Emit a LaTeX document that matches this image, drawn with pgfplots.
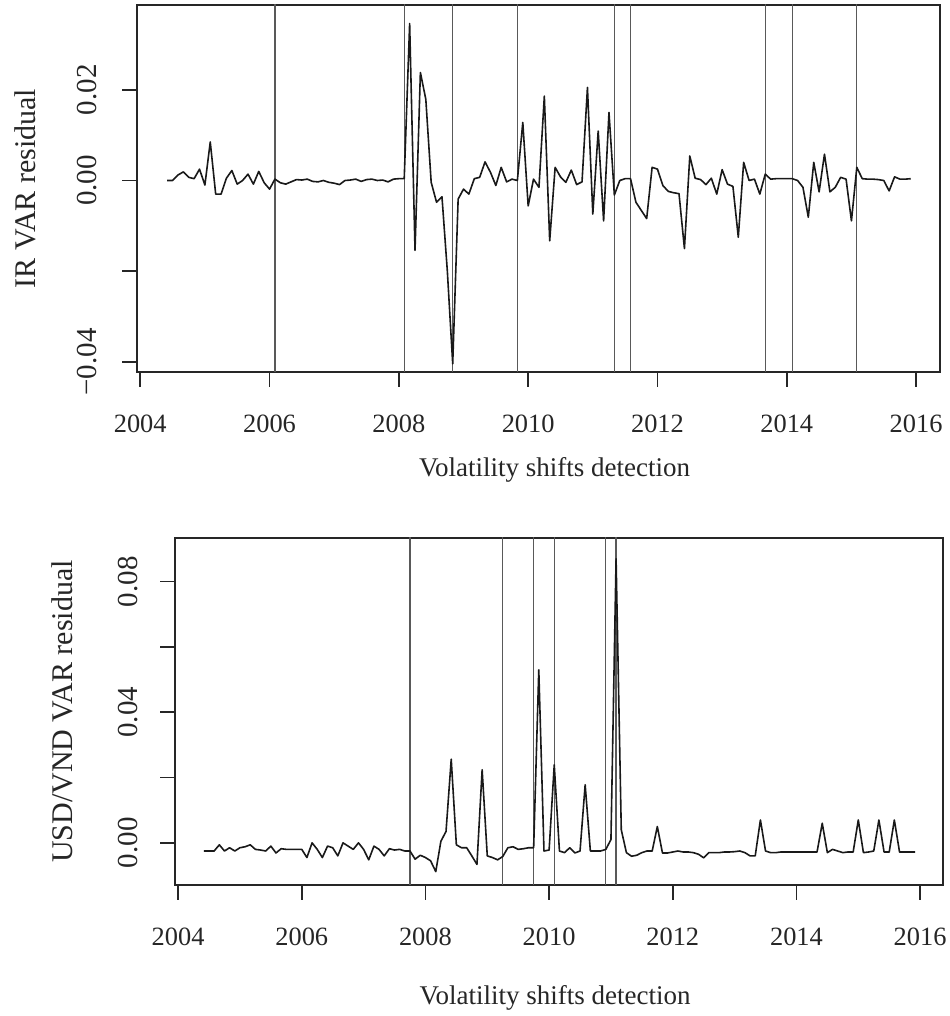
\documentclass[border=0pt]{standalone}
\usepackage{fontspec}
\setmainfont{Liberation Serif}
\usepackage{pgfplots}
\usepackage{pgfplotstable}
\pgfplotsset{compat=1.18}

% monthly VAR residuals
\pgfplotstableread{
t res
2004.417 0.0000
2004.500 0.0000
2004.583 0.0012
2004.667 0.0019
2004.750 0.0007
2004.833 0.0004
2004.917 0.0025
2005.000 -0.0010
2005.083 0.0085
2005.167 -0.0030
2005.250 -0.0030
2005.333 0.0005
2005.417 0.0022
2005.500 -0.0008
2005.583 0.0000
2005.667 0.0014
2005.750 -0.0008
2005.833 0.0020
2005.917 -0.0005
2006.000 -0.0019
2006.083 0.0003
2006.167 -0.0005
2006.250 -0.0008
2006.333 -0.0003
2006.417 0.0002
2006.500 0.0001
2006.583 0.0003
2006.667 -0.0002
2006.750 -0.0003
2006.833 0.0000
2006.917 -0.0004
2007.000 -0.0006
2007.083 -0.0009
2007.167 0.0000
2007.250 0.0001
2007.333 0.0003
2007.417 -0.0002
2007.500 0.0002
2007.583 0.0003
2007.667 0.0000
2007.750 0.0001
2007.833 -0.0003
2007.917 0.0003
2008.000 0.0004
2008.083 0.0004
2008.167 0.0346
2008.250 -0.0154
2008.333 0.0238
2008.417 0.0179
2008.500 -0.0004
2008.583 -0.0048
2008.667 -0.0036
2008.750 -0.0200
2008.833 -0.0404
2008.917 -0.0041
2009.000 -0.0019
2009.083 -0.0030
2009.167 0.0004
2009.250 0.0007
2009.333 0.0041
2009.417 0.0018
2009.500 -0.0011
2009.583 0.0029
2009.667 -0.0003
2009.750 0.0003
2009.833 0.0000
2009.917 0.0128
2010.000 -0.0056
2010.083 0.0003
2010.167 -0.0015
2010.250 0.0186
2010.333 -0.0133
2010.417 0.0029
2010.500 0.0008
2010.583 -0.0004
2010.667 0.0023
2010.750 -0.0009
2010.833 -0.0003
2010.917 0.0205
2011.000 -0.0074
2011.083 0.0109
2011.167 -0.0089
2011.250 0.0150
2011.333 -0.0032
2011.417 0.0000
2011.500 0.0004
2011.583 0.0004
2011.667 -0.0048
2011.750 -0.0066
2011.833 -0.0084
2011.917 0.0029
2012.000 0.0025
2012.083 -0.0011
2012.167 -0.0024
2012.250 -0.0027
2012.333 -0.0029
2012.417 -0.0150
2012.500 0.0054
2012.583 0.0005
2012.667 0.0002
2012.750 -0.0009
2012.833 0.0005
2012.917 -0.0030
2013.000 0.0024
2013.083 -0.0008
2013.167 -0.0013
2013.250 -0.0125
2013.333 0.0040
2013.417 0.0000
2013.500 0.0003
2013.583 -0.0030
2013.667 0.0014
2013.750 0.0003
2013.833 0.0004
2013.917 0.0004
2014.000 0.0004
2014.083 0.0004
2014.167 0.0000
2014.250 -0.0015
2014.333 -0.0081
2014.417 0.0040
2014.500 -0.0025
2014.583 0.0058
2014.667 -0.0025
2014.750 -0.0015
2014.833 0.0007
2014.917 0.0003
2015.000 -0.0089
2015.083 0.0029
2015.167 0.0004
2015.250 0.0003
2015.333 0.0003
2015.417 0.0002
2015.500 0.0000
2015.583 -0.0023
2015.667 0.0008
2015.750 0.0003
2015.833 0.0003
2015.917 0.0004
}\irres

\pgfplotstableread{
t res
2004.417 -0.0025
2004.500 -0.0025
2004.583 -0.0025
2004.667 -0.0006
2004.750 -0.0025
2004.833 -0.0015
2004.917 -0.0025
2005.000 -0.0015
2005.083 -0.0012
2005.167 -0.0006
2005.250 -0.0020
2005.333 -0.0022
2005.417 -0.0025
2005.500 -0.0010
2005.583 -0.0031
2005.667 -0.0018
2005.750 -0.0020
2005.833 -0.0020
2005.917 -0.0020
2006.000 -0.0020
2006.083 -0.0045
2006.167 0.0000
2006.250 -0.0020
2006.333 -0.0045
2006.417 -0.0010
2006.500 -0.0015
2006.583 -0.0040
2006.667 0.0000
2006.750 -0.0010
2006.833 -0.0020
2006.917 0.0000
2007.000 -0.0020
2007.083 -0.0052
2007.167 -0.0010
2007.250 -0.0020
2007.333 -0.0040
2007.417 -0.0018
2007.500 -0.0022
2007.583 -0.0020
2007.667 -0.0025
2007.750 -0.0025
2007.833 -0.0050
2007.917 -0.0038
2008.000 -0.0045
2008.083 -0.0055
2008.167 -0.0088
2008.250 0.0005
2008.333 0.0035
2008.417 0.0256
2008.500 -0.0006
2008.583 -0.0015
2008.667 -0.0015
2008.750 -0.0040
2008.833 -0.0066
2008.917 0.0224
2009.000 -0.0040
2009.083 -0.0045
2009.167 -0.0052
2009.250 -0.0042
2009.333 -0.0015
2009.417 -0.0012
2009.500 -0.0020
2009.583 -0.0018
2009.667 -0.0015
2009.750 -0.0015
2009.833 0.0530
2009.917 -0.0025
2010.000 -0.0022
2010.083 0.0239
2010.167 -0.0025
2010.250 -0.0030
2010.333 -0.0015
2010.417 -0.0031
2010.500 -0.0025
2010.583 0.0178
2010.667 -0.0025
2010.750 -0.0025
2010.833 -0.0025
2010.917 -0.0020
2011.000 0.0010
2011.083 0.0870
2011.167 0.0040
2011.250 -0.0030
2011.333 -0.0041
2011.417 -0.0038
2011.500 -0.0030
2011.583 -0.0025
2011.667 -0.0025
2011.750 0.0050
2011.833 -0.0031
2011.917 -0.0031
2012.000 -0.0028
2012.083 -0.0025
2012.167 -0.0028
2012.250 -0.0028
2012.333 -0.0030
2012.417 -0.0035
2012.500 -0.0046
2012.583 -0.0030
2012.667 -0.0030
2012.750 -0.0030
2012.833 -0.0028
2012.917 -0.0028
2013.000 -0.0027
2013.083 -0.0025
2013.167 -0.0030
2013.250 -0.0040
2013.333 -0.0040
2013.417 0.0070
2013.500 -0.0025
2013.583 -0.0030
2013.667 -0.0030
2013.750 -0.0028
2013.833 -0.0028
2013.917 -0.0028
2014.000 -0.0028
2014.083 -0.0028
2014.167 -0.0028
2014.250 -0.0028
2014.333 -0.0028
2014.417 0.0060
2014.500 -0.0030
2014.583 -0.0020
2014.667 -0.0025
2014.750 -0.0030
2014.833 -0.0028
2014.917 -0.0028
2015.000 0.0070
2015.083 -0.0030
2015.167 -0.0028
2015.250 -0.0025
2015.333 0.0070
2015.417 -0.0028
2015.500 -0.0028
2015.583 0.0070
2015.667 -0.0028
2015.750 -0.0028
2015.833 -0.0028
2015.917 -0.0028
}\fxres

\pgfplotsset{
  rbox/.style={
    scale only axis,
    anchor=south west,
    xmin=2003.95, xmax=2016.37,
    scaled y ticks=false,
    axis line style={black!85, line width=0.9pt},
    tick style={black!85, line width=0.8pt},
    tick align=outside,
    major tick length=7.5pt,
    xtick pos=bottom, ytick pos=left,
    xtick={2004,2006,2008,2010,2012,2014,2016},
    xticklabels={2004,2006,2008,2010,2012,2014,2016},
    xticklabel style={anchor=north, inner sep=0pt, yshift=-14pt},
    yticklabel style={rotate=90, anchor=south, inner sep=0pt,
      font=\fontsize{14.5}{17}\selectfont},
    ylabel style={anchor=base, inner sep=0pt, font=\fontsize{15}{18}\selectfont},
    xlabel style={anchor=base, inner sep=0pt, font=\fontsize{13.5}{16}\selectfont},
    every tick label/.append style={text=black!85},
    label style={text=black!85},
  },
  shift/.style={black!65, line width=0.6pt, ycomb, mark=none},
  resid/.style={black!90, line width=0.8pt, mark=none, line join=round},
}

\begin{document}
\fontsize{13.2}{15.8}\selectfont
\begin{tikzpicture}
\useasboundingbox (0,0) rectangle (474.5pt,508pt);

\begin{axis}[rbox,
  at={(68.5pt,322pt)}, width=401.5pt, height=183.5pt,
  ymin=-0.0422, ymax=0.0387,
  ytick={-0.04,-0.02,0,0.02},
  yticklabels={−0.04,,0.00,0.02},
  yticklabel shift=12.5pt,
  ylabel={IR VAR residual},
  ylabel style={at={(axis description cs:-0.127,0.5)}},
  xlabel={Volatility shifts detection},
  xlabel style={at={(axis description cs:0.52,0)}, yshift=-52.5pt},
]
\addplot[shift] coordinates {(2006.083,1) (2008.083,1) (2008.833,1) (2009.833,1) (2011.333,1) (2011.583,1) (2013.667,1) (2014.083,1) (2015.083,1)};
\addplot[shift] coordinates {(2006.083,-1) (2008.083,-1) (2008.833,-1) (2009.833,-1) (2011.333,-1) (2011.583,-1) (2013.667,-1) (2014.083,-1) (2015.083,-1)};
\addplot[resid] table[x=t, y=res] {\irres};
\end{axis}

\begin{axis}[rbox,
  at={(87.5pt,65.5pt)}, width=384pt, height=173.5pt,
  ymin=-0.0129, ymax=0.0934,
  ytick={0,0.02,0.04,0.06,0.08},
  yticklabels={0.00,,0.04,,0.08},
  yticklabel shift=11pt,
  ylabel={USD/VND VAR residual},
  ylabel style={at={(axis description cs:-0.1341,0.5)}},
  xlabel={Volatility shifts detection},
  xlabel style={at={(axis description cs:0.495,0)}, yshift=-60pt},
]
\addplot[shift] coordinates {(2007.75,1) (2009.25,1) (2009.75,1) (2010.083,1) (2010.917,1) (2011.083,1)};
\addplot[shift] coordinates {(2007.75,-1) (2009.25,-1) (2009.75,-1) (2010.083,-1) (2010.917,-1) (2011.083,-1)};
\addplot[resid] table[x=t, y=res] {\fxres};
\end{axis}
\end{tikzpicture}
\end{document}
